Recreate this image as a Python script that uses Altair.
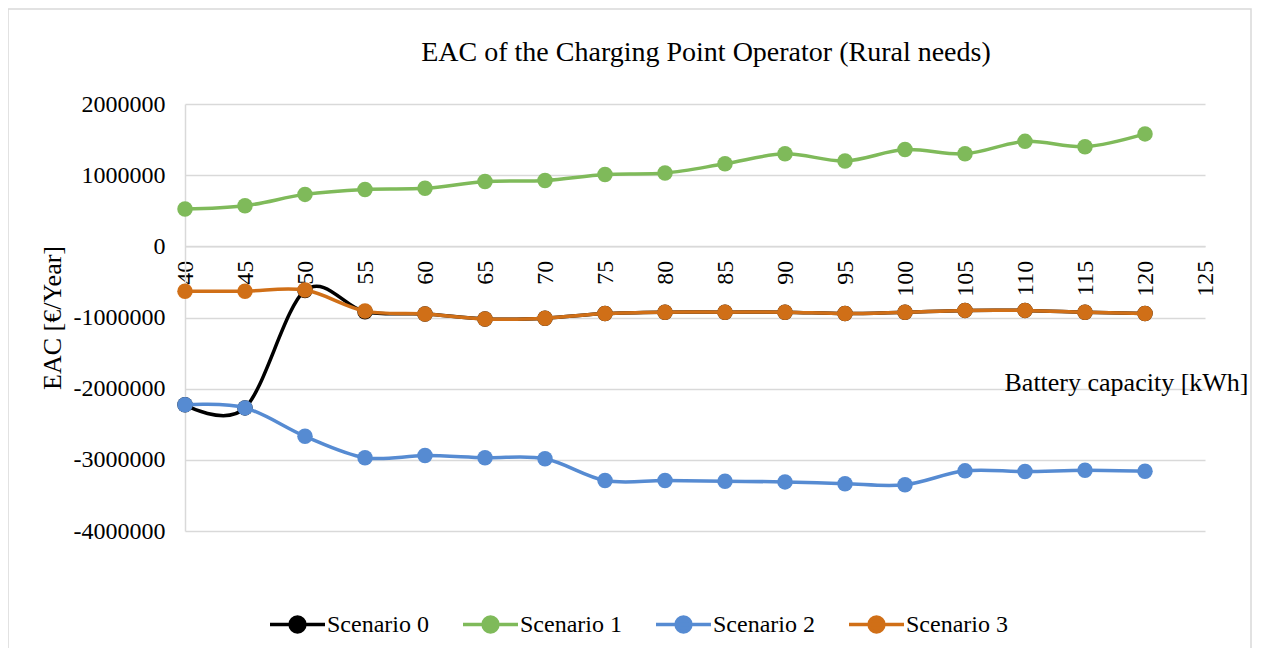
import altair as alt
import pandas as pd

battery = [40, 45, 50, 55, 60, 65, 70, 75, 80, 85, 90, 95, 100, 105, 110, 115, 120]
scenario0 = [-2226000, -2270000, -620000, -920000, -950000, -1020000, -1010000, -945000, -925000,
             -925000, -925000, -945000, -925000, -900000, -900000, -925000, -945000]
scenario1 = [525000, 570000, 730000, 800000, 815000, 910000, 925000, 1010000, 1030000,
             1160000, 1300000, 1200000, 1360000, 1300000, 1475000, 1400000, 1580000]
scenario2 = [-2226000, -2270000, -2670000, -2970000, -2940000, -2970000, -2985000, -3290000, -3290000,
             -3300000, -3310000, -3335000, -3350000, -3155000, -3165000, -3146000, -3160000]
scenario3 = [-630000, -630000, -615000, -910000, -950000, -1020000, -1010000, -945000, -925000,
             -925000, -925000, -945000, -925000, -900000, -900000, -925000, -945000]

names = ["Scenario 0", "Scenario 1", "Scenario 2", "Scenario 3"]
colors = ["#000000", "#7fba5a", "#568bd2", "#d06f17"]
x_ticks = list(range(40, 126, 5))
y_ticks = [2000000, 1000000, 0, -1000000, -2000000, -3000000, -4000000]

rows = []
for name, vals in zip(names, [scenario0, scenario1, scenario2, scenario3]):
    for b, v in zip(battery, vals):
        rows.append({"battery": b, "eac": v, "series": name})
df = pd.DataFrame(rows)

FONT = "Liberation Serif"
W, H = 1020, 427
GRID = "#d9d9d9"

legend_path = ("M-1,0L1,0M-0.27,0A0.27,0.27,0,1,1,0.27,0"
               "A0.27,0.27,0,1,1,-0.27,0Z")

x_enc = alt.X("battery:Q",
              scale=alt.Scale(domain=[40, 125], nice=False, zero=False),
              axis=alt.Axis(values=x_ticks, labelAngle=270, labelAlign="right",
                            labelBaseline="middle", labelPadding=14, ticks=False,
                            grid=False, domainColor=GRID, domainWidth=1.5,
                            offset=-(H * 2 / 3), labelFontSize=24, labelFont=FONT,
                            labelColor="#000000",
                            title="Battery capacity [kWh]", titleFont=FONT,
                            titleFontSize=26, titleFontWeight="normal",
                            titleColor="#000000", titleAngle=0,
                            titleAlign="right", titleBaseline="middle",
                            titleX=1063, titleY=136))
y_enc = alt.Y("eac:Q",
              scale=alt.Scale(domain=[-4000000, 2000000], nice=False, zero=False),
              axis=alt.Axis(values=y_ticks, ticks=False, labelPadding=20,
                            labelExpr="datum.value < 0 ? '-' + format(-datum.value, 'd') : format(datum.value, 'd')",
                            grid=True, gridColor=GRID, gridWidth=1.5,
                            domainColor=GRID, domainWidth=1.5,
                            labelFontSize=24, labelFont=FONT, labelColor="#000000",
                            title="EAC [€/Year]", titleFont=FONT, titleFontSize=26,
                            titleFontWeight="normal", titleColor="#000000",
                            titleAngle=270, titleAlign="center",
                            titleBaseline="middle", titleX=-133, titleY=H / 2))
color_enc = alt.Color("series:N",
                      scale=alt.Scale(domain=names, range=colors),
                      legend=alt.Legend(title=None, orient="none", direction="horizontal",
                                        legendX=83, legendY=491,
                                        symbolType=legend_path, symbolSize=3025,
                                        symbolStrokeWidth=3.5, labelFont=FONT,
                                        labelFontSize=24, labelColor="#000000",
                                        labelOffset=0, columnPadding=27))

border = alt.Chart(pd.DataFrame({"a": [0]})).mark_rect(
    fill="transparent", stroke=GRID, strokeWidth=1.5, clip=False
).encode(x=alt.value(-177), x2=alt.value(1066), y=alt.value(-95), y2=alt.value(H + 130))

layers = [border]
for name in names:
    base = alt.Chart(df).transform_filter(alt.datum.series == name)
    layers.append(base.mark_line(interpolate="cardinal", tension=0, strokeWidth=3.5)
                  .encode(x=x_enc, y=y_enc, color=color_enc))
    layers.append(base.mark_point(filled=True, size=240, opacity=1)
                  .encode(x=x_enc, y=y_enc, color=color_enc))

chart = alt.layer(*layers).properties(
    width=W, height=H,
    autosize=alt.AutoSizeParams(type="none"),
    padding={"left": 177, "top": 96, "right": 47, "bottom": 117},
    title=alt.Title("EAC of the Charging Point Operator (Rural needs)",
                    font=FONT, fontSize=28, fontWeight="normal", color="#000000",
                    anchor="middle", frame="group", offset=-59, dx=11),
).configure_view(stroke=None)

chart.save("out.html", embed_options={"renderer": "svg", "actions": False})
